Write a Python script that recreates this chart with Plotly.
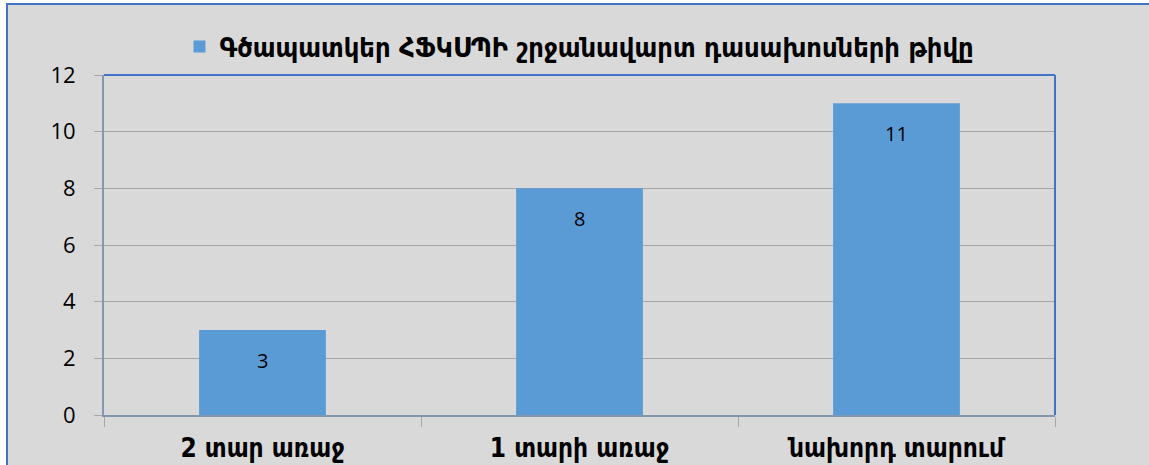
import plotly.graph_objects as go

categories = ["2 տար առաջ", "1 տարի առաջ", "նախորդ տարում"]
values = [3, 8, 11]
series_name = "Գծապատկեր ՀՖԿՍՊԻ շրջանավարտ դասախոսների թիվը"
y_ticks = [0, 2, 4, 6, 8, 10, 12]

W, H = 1149, 465
L, R = 104, W - 1055
T, B = 75, H - 415
pw, ph = W - L - R, H - T - B

def px(x):
    return (x - L) / pw

def py(y):
    return (H - B - y) / ph

fig = go.Figure()
fig.add_trace(go.Bar(
    x=categories, y=values, name=series_name,
    marker=dict(color="#5B9BD5", line=dict(width=0)),
    width=0.4, showlegend=True,
))

for c, v in zip(categories, values):
    fig.add_annotation(x=c, y=v, text=str(v), showarrow=False, yshift=-30,
                       font=dict(family="Open Sans", size=20, color="#000000"))

# chart area background + outer border
fig.add_shape(type="rect", xref="paper", yref="paper", layer="below",
              x0=px(7), x1=px(1200), y0=py(500), y1=py(4),
              fillcolor="#D9D9D9", line=dict(color="#4472C4", width=2))
# top and right plot border
fig.add_shape(type="line", xref="paper", yref="paper", x0=0, x1=1, y0=1, y1=1,
              line=dict(color="#4472C4", width=2))
fig.add_shape(type="line", xref="paper", yref="paper", x0=1, x1=1, y0=0, y1=1,
              line=dict(color="#4472C4", width=2))

fig.update_layout(
    width=W, height=H,
    margin=dict(l=L, r=R, t=T, b=B, pad=0, autoexpand=False),
    paper_bgcolor="#FFFFFF",
    plot_bgcolor="rgba(0,0,0,0)",
    bargap=0.6,
    legend=dict(orientation="h", x=0.5, xanchor="center", y=py(47), yanchor="middle",
                font=dict(family="DejaVu Sans Condensed", size=27, color="#000000", weight="bold"),
                bgcolor="rgba(0,0,0,0)", itemwidth=30),
    xaxis=dict(
        automargin=False,
        showline=True, linecolor="#8497B0", linewidth=2,
        ticks="outside", tickson="boundaries", ticklen=10, tickcolor="#A6A6A6",
        showgrid=False,
        tickfont=dict(family="DejaVu Sans Condensed", size=26, color="#000000", weight="bold"),
        ticklabelstandoff=9,
    ),
    yaxis=dict(
        automargin=False,
        range=[0, 12], tickvals=y_ticks, ticktext=[str(t) for t in y_ticks],
        showline=True, linecolor="#8497B0", linewidth=2,
        showgrid=True, gridcolor="#A6A6A6", gridwidth=1,
        ticks="outside", ticklen=8, tickcolor="#A6A6A6",
        tickfont=dict(family="Open Sans", size=22, color="#000000"),
        ticklabelstandoff=14, zeroline=False,
    ),
)

fig.write_html(
    "out.html",
    config={"displayModeBar": False},
    post_script="document.body.style.margin='0';document.body.style.overflow='hidden';",
)
